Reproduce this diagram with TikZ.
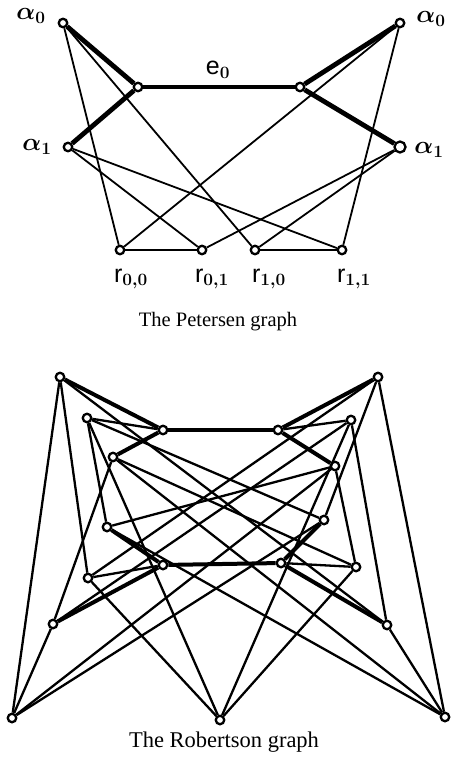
\documentclass[tikz,border=0pt]{standalone}
\usepackage{fontspec}
\setmainfont{Liberation Serif}
\newfontfamily\labelFont{Liberation Sans}
\usetikzlibrary{positioning}

\begin{document}
\begin{tikzpicture}[x=1pt, y=-1pt,
    vtx/.style={circle, draw, line width=2.3pt, fill=white, inner sep=0pt, minimum size=8.5pt},
    pThin/.style={line width=1.8pt},
    pThick/.style={line width=4.8pt},
    rThin/.style={line width=2.3pt},
    rThick/.style={line width=4pt},
    vlabel/.style={inner sep=0pt, font=\fontsize{25}{25}\selectfont\boldmath},
    caption/.style={inner sep=0pt, font=\fontsize{20.5}{20.5}\selectfont}]
    \useasboundingbox (0,0) rectangle (456,757);

    % 1. The Petersen graph
    \foreach \name/\px/\py in {aL/63/23, aR/400/23, eL/138/87, eR/300/87,
        bL/68/147, r00/120/250, r01/202/250, r10/255/250, r11/342/250}
        \node[vtx] (\name) at (\px,\py) {};
    \node[vtx, minimum size=11pt] (bR) at (400,147) {};

    \foreach \u/\v in {aL/eL, bL/eL, eL/eR, eR/aR, eR/bR}
        \draw[pThick] (\u) -- (\v);
    \foreach \u/\v in {aL/r00, aL/r10, bL/r01, bL/r11, aR/r00, aR/r11,
        bR/r01, bR/r10, r00/r01, r10/r11}
        \draw[pThin] (\u) -- (\v);

    \node[vlabel] (laL) at (31,16) {$\alpha_0$};
    \node[vlabel] (laR) at (431,19) {$\alpha_0$};
    \node[vlabel] (lbL) at (37,147) {$\alpha_1$};
    \node[vlabel] (lbR) at (429,150) {$\alpha_1$};
    \node[vlabel] (le0) at (218,70) {{\labelFont e}$_0$};
    \node[vlabel] (lr00) at (131,279) {{\labelFont r}$_{0,0}$};
    \node[vlabel] (lr01) at (212,279) {{\labelFont r}$_{0,1}$};
    \node[vlabel] (lr10) at (269,279) {{\labelFont r}$_{1,0}$};
    \node[vlabel] (lr11) at (354,279) {{\labelFont r}$_{1,1}$};
    \node[caption] (capP) at (218,322) {The Petersen graph};

    % 2. The Robertson graph
    \foreach \name/\px/\py in {a/60/377, b/378/377, c/87/418, d/351/420,
        e/163/430, f/278/430, g/113/457, h/335/466, i/107/527, j/324/520,
        k/88/578, l/163/565, m/281/563, n/356/567, o/53/624, p/387/625,
        q/12/718, r/220/720, s/445/717}
        \node[vtx] (\name) at (\px,\py) {};

    \foreach \u/\v in {a/e, e/g, e/f, f/b, f/h, l/o, l/i, l/m, m/p, m/j}
        \draw[rThick] (\u) -- (\v);
    \foreach \u/\v in {e/c, f/d, l/k, m/n, a/q, a/k, a/p, b/s, b/k, b/j,
        c/i, c/j, c/r, d/o, d/p, d/r, g/o, g/n, g/s, h/i, h/n, h/q,
        q/o, q/j, r/k, r/n, s/i, s/p}
        \draw[rThin] (\u) -- (\v);

    \node[caption, font=\fontsize{22.5}{22.5}\selectfont] (capR) at (224,742) {The Robertson graph};
\end{tikzpicture}
\end{document}
